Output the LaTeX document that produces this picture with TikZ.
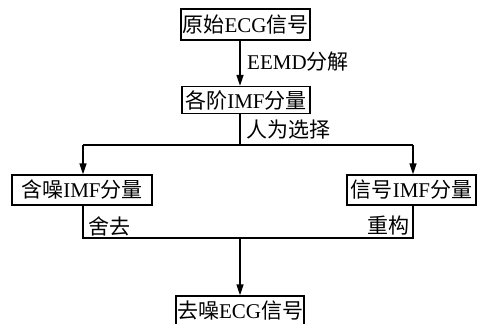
\documentclass[tikz,border=0pt]{standalone}
\usepackage{fontspec}
\setmainfont{Liberation Serif}
\newfontfamily\cjk{Noto Sans CJK SC}
\usetikzlibrary{arrows.meta}
\newcommand\zh[1]{{\cjk #1}}
\begin{document}
\begin{tikzpicture}[x=1pt,y=-1pt,
 box/.style={draw,line width=1.3pt,inner sep=0pt,font=\fontsize{21}{21}\selectfont},
 lbl/.style={inner sep=0pt,font=\fontsize{21}{21}\selectfont},
 wire/.style={line width=1.5pt},
 arr/.style={wire,-{Triangle[length=11pt,width=7pt]}}]
\useasboundingbox (0,0) rectangle (482,324);
\node[box,minimum width=129pt,minimum height=31pt] (b1) at (245.5,24.5) {\zh{原始}ECG\zh{信号}};
\node[box,minimum width=128pt,minimum height=27pt] (b2) at (246,100) {\zh{各阶}IMF\zh{分量}};
\node[box,minimum width=140pt,minimum height=30pt] (b3) at (82,190) {\zh{含噪}IMF\zh{分量}};
\node[box,minimum width=129pt,minimum height=30pt] (b4) at (411.5,190) {\zh{信号}IMF\zh{分量}};
\node[box,minimum width=128pt,minimum height=30pt] (b5) at (240,311) {\zh{去噪}ECG\zh{信号}};
\coordinate (c1) at (240,0);
\coordinate (j1) at (240,145);
\coordinate (l1) at (83,145);
\coordinate (r1) at (413,145);
\coordinate (l2) at (83,238);
\coordinate (r2) at (413,238);
\coordinate (j2) at (240,238);
\draw[arr] (b1.south -| c1) -- (b2.north -| c1);
\draw[wire] (b2.south -| j1) -- (j1);
\draw[wire] (l1) -- (r1);
\draw[arr] (l1) -- (l1 |- b3.north);
\draw[arr] (r1) -- (r1 |- b4.north);
\draw[wire] (b3.south -| l2) -- (l2) -- (r2) -- (b4.south -| r2);
\draw[arr] (j2) -- (b5.north -| j2);
\node[lbl,anchor=west] (t1) at (247,62) {EEMD\zh{分解}};
\node[lbl,anchor=west] (t2) at (246,130) {\zh{人为选择}};
\node[lbl,anchor=west] (t3) at (88,226) {\zh{舍去}};
\node[lbl,anchor=east] (t4) at (410,226) {\zh{重构}};
\end{tikzpicture}
\end{document}
